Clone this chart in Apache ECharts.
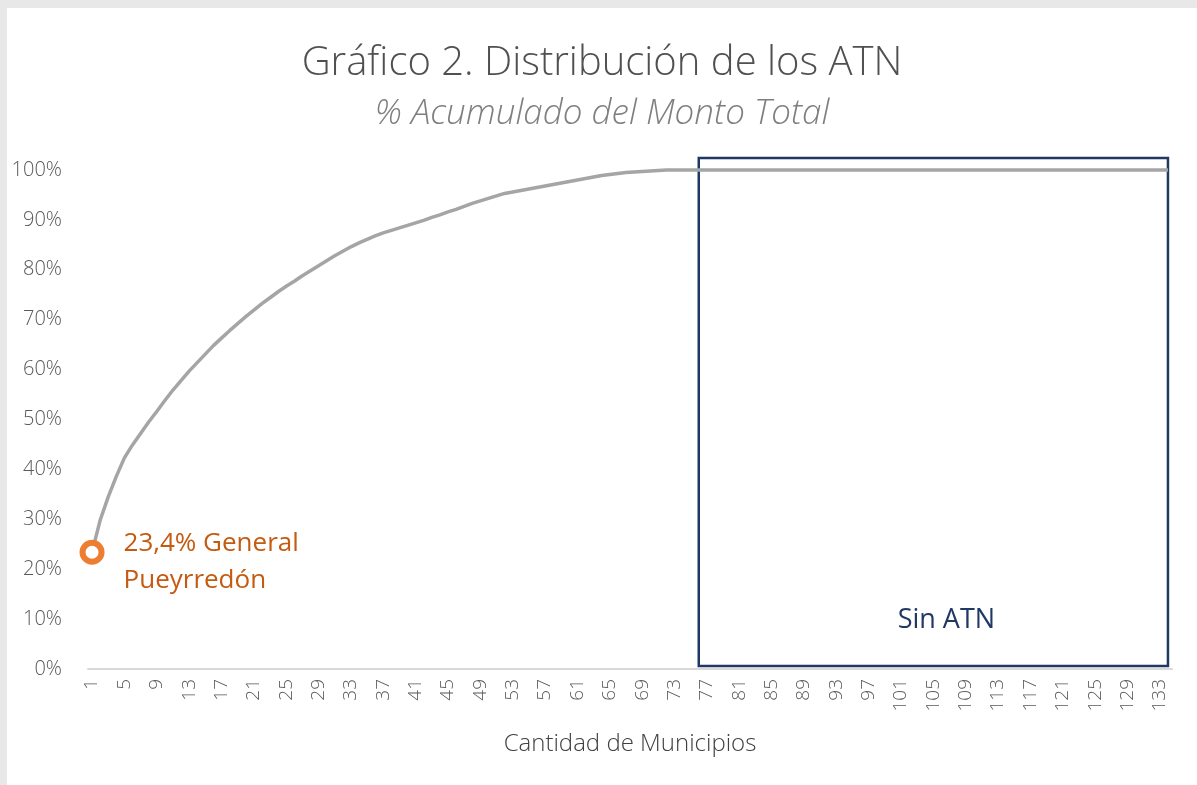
<!DOCTYPE html>
<html>
<head>
<meta charset="utf-8">
<script src="https://cdn.jsdelivr.net/npm/echarts@6/dist/echarts.min.js"></script>
<style>
    html, body { margin: 0; padding: 0; background: #e8e8e8; }
    #main { position: absolute; left: 7px; top: 8px; width: 1190px; height: 777px; background: #ffffff; }
</style>
</head>
<body>
<div id="main"></div>
<script>
// cantidad de municipios (1..134)
var municipios = [];
for (var i = 1; i <= 134; i++) {
    municipios.push(String(i));
}

// % acumulado del monto total
var montoAcumulado = [
    23.4, 29.8, 34.5, 38.6, 42.3, 44.9, 47.2, 49.5, 51.6, 53.8,
    55.9, 57.8, 59.7, 61.4, 63.1, 64.8, 66.3, 67.8, 69.2, 70.6,
    71.9, 73.2, 74.4, 75.6, 76.7, 77.7, 78.8, 79.8, 80.8, 81.8,
    82.8, 83.7, 84.6, 85.4, 86.1, 86.8, 87.4, 87.9, 88.4, 88.9,
    89.4, 89.9, 90.5, 91.0, 91.6, 92.1, 92.7, 93.3, 93.8, 94.3,
    94.8, 95.3, 95.6, 95.9, 96.2, 96.5, 96.8, 97.1, 97.4, 97.7,
    98.0, 98.3, 98.6, 98.9, 99.1, 99.3, 99.5, 99.6, 99.7, 99.8,
    99.9, 100, 100, 100, 100, 100, 100, 100, 100, 100,
    100, 100, 100, 100, 100, 100, 100, 100, 100, 100,
    100, 100, 100, 100, 100, 100, 100, 100, 100, 100,
    100, 100, 100, 100, 100, 100, 100, 100, 100, 100,
    100, 100, 100, 100, 100, 100, 100, 100, 100, 100,
    100, 100, 100, 100, 100, 100, 100, 100, 100, 100,
    100, 100, 100, 100
];

// municipio destacado
var destacadoMunicipio = '1';
var destacadoValor = 23.4;
var destacadoTexto = '23,4% General\nPueyrredón';

// municipios sin ATN (recuadro)
var sinAtnDesde = '76';
var sinAtnHasta = '134';
var sinAtnTexto = 'Sin ATN';
var recuadroMin = 0.6;
var recuadroMax = 102.4;

var fuente = 'Open Sans';

var chart = echarts.init(document.getElementById('main'));

chart.setOption({
    animation: false,
    title: [{
        text: 'Gráfico 2. Distribución de los ATN',
        left: 'center',
        top: 31,
        textStyle: {
            fontFamily: fuente,
            fontWeight: 300,
            fontSize: 40,
            color: '#505050'
        }
    }, {
        text: '% Acumulado del Monto Total',
        left: 'center',
        top: 84,
        textStyle: {
            fontFamily: fuente,
            fontWeight: 300,
            fontStyle: 'italic',
            fontSize: 35,
            color: '#7f7f7f'
        }
    }],
    grid: {
        left: 81,
        right: 25,
        top: 150,
        bottom: 116
    },
    xAxis: {
        type: 'category',
        data: municipios,
        boundaryGap: true,
        name: 'Cantidad de Municipios',
        nameLocation: 'middle',
        nameGap: 63,
        nameTextStyle: {
            fontFamily: fuente,
            fontWeight: 300,
            fontSize: 24,
            color: '#404040'
        },
        axisLine: {
            lineStyle: { color: '#d9d9d9', width: 2 }
        },
        axisTick: { show: false },
        axisLabel: {
            interval: 3,
            rotate: 90,
            margin: 10,
            fontFamily: fuente,
            fontWeight: 300,
            fontSize: 19,
            color: '#595959'
        },
        splitLine: { show: false }
    },
    yAxis: {
        type: 'value',
        min: 0,
        max: recuadroMax,
        interval: 10,
        axisLine: { show: false },
        axisTick: { show: false },
        splitLine: { show: false },
        axisLabel: {
            showMaxLabel: false,
            formatter: function (value) {
                return value > 100 ? '' : value + '%';
            },
            margin: 26,
            fontFamily: fuente,
            fontWeight: 300,
            fontSize: 20,
            color: '#595959'
        }
    },
    series: [{
        name: '% Acumulado',
        type: 'line',
        data: montoAcumulado,
        symbol: 'none',
        lineStyle: { color: '#a5a5a5', width: 3.5 },
        markArea: {
            silent: true,
            itemStyle: {
                color: 'rgba(0,0,0,0)',
                borderColor: '#1f3864',
                borderWidth: 2.5
            },
            label: {
                show: true,
                position: 'insideBottom',
                distance: 33,
                offset: [13, 0],
                fontFamily: fuente,
                fontSize: 27,
                color: '#1f3864'
            },
            data: [[
                { name: sinAtnTexto, xAxis: sinAtnDesde, yAxis: recuadroMin },
                { xAxis: sinAtnHasta, yAxis: recuadroMax }
            ]]
        }
    }, {
        name: 'Destacado',
        type: 'scatter',
        data: [[destacadoMunicipio, destacadoValor]],
        symbol: 'circle',
        symbolSize: 19,
        z: 5,
        itemStyle: {
            opacity: 1,
            color: '#ffffff',
            borderColor: '#ed7d31',
            borderWidth: 6
        },
        label: {
            show: true,
            position: 'right',
            distance: 19,
            offset: [0, 10],
            formatter: destacadoTexto,
            fontFamily: fuente,
            fontSize: 26,
            lineHeight: 37,
            color: '#c55a11'
        }
    }]
});
</script>
</body>
</html>
